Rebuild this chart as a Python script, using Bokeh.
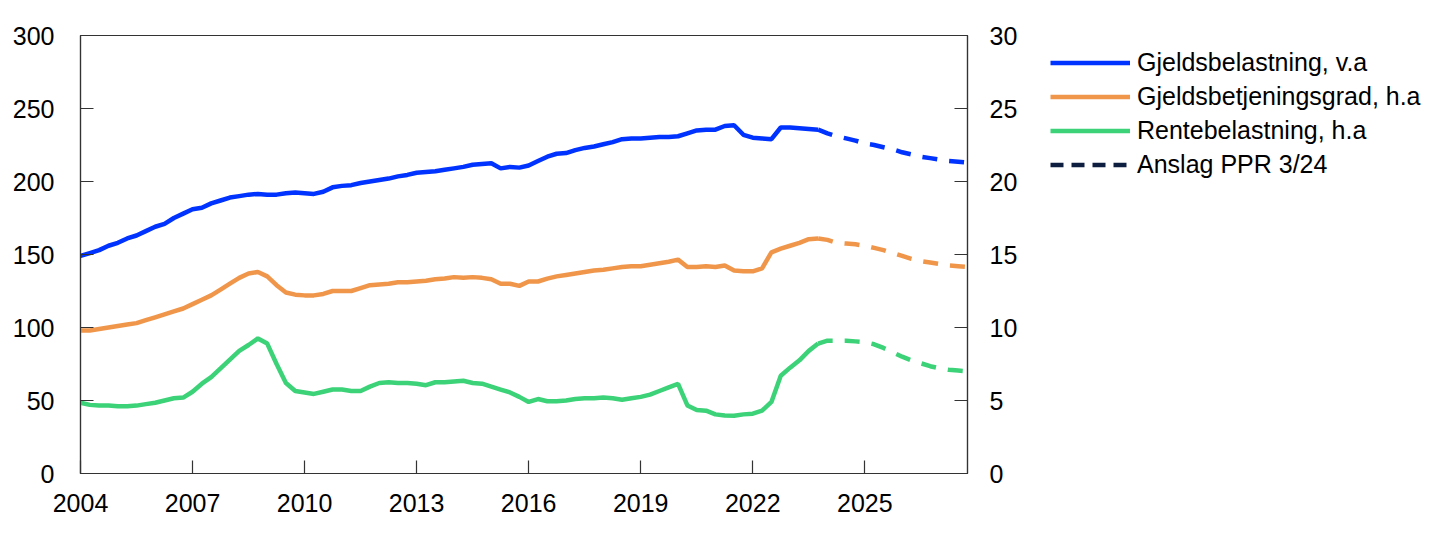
from bokeh.plotting import figure
from bokeh.models import Range1d, LinearAxis, FixedTicker, Legend, LegendItem
from bokeh.layouts import row
from bokeh.embed import file_html
from bokeh.resources import INLINE

# ---- data (quarterly, 2004Q1 - 2023Q4 actual; 2024Q1 - 2027Q4 forecast) ----
start_year = 2004
gjeldsbelastning = [
    149, 151, 153, 156,
    158, 161, 163, 166,
    169, 171, 175, 178,
    181, 182, 185, 187,
    189, 190, 191, 191.5,
    191, 191, 192, 192.5,
    192, 191.5, 193, 196,
    197, 197.5, 199, 200,
    201, 202, 203.5, 204.5,
    206, 206.5, 207, 208,
    209, 210, 211.5, 212,
    212.5, 209, 210, 209.5,
    211, 214, 217, 219,
    219.5, 221.5, 223, 224,
    225.5, 227, 229, 229.5,
    229.5, 230, 230.5, 230.5,
    231, 233, 235, 235.5,
    235.5, 238, 238.5, 232,
    230, 229.5, 229, 237,
    237, 236.5, 236, 235.5,
]
gjeldsbetjeningsgrad = [
    9.8, 9.8, 9.9, 10.0,
    10.1, 10.2, 10.3, 10.5,
    10.7, 10.9, 11.1, 11.3,
    11.6, 11.9, 12.2, 12.6,
    13.0, 13.4, 13.7, 13.8,
    13.5, 12.9, 12.4, 12.25,
    12.2, 12.2, 12.3, 12.5,
    12.5, 12.5, 12.7, 12.9,
    12.95, 13.0, 13.1, 13.1,
    13.15, 13.2, 13.3, 13.35,
    13.45, 13.4, 13.45, 13.4,
    13.3, 13.0, 13.0, 12.85,
    13.15, 13.15, 13.35, 13.5,
    13.6, 13.7, 13.8, 13.9,
    13.95, 14.05, 14.15, 14.2,
    14.2, 14.3, 14.4, 14.5,
    14.65, 14.15, 14.15, 14.2,
    14.15, 14.25, 13.9, 13.85,
    13.85, 14.05, 15.15, 15.4,
    15.6, 15.8, 16.05, 16.1,
]
rentebelastning = [
    4.85, 4.7, 4.65, 4.65,
    4.6, 4.6, 4.65, 4.75,
    4.85, 5.0, 5.15, 5.2,
    5.6, 6.15, 6.6, 7.2,
    7.8, 8.4, 8.8, 9.25,
    8.9, 7.5, 6.2, 5.65,
    5.55, 5.45, 5.6, 5.75,
    5.75, 5.65, 5.65, 5.95,
    6.2, 6.25, 6.2, 6.2,
    6.15, 6.05, 6.25, 6.25,
    6.3, 6.35, 6.2, 6.15,
    5.95, 5.75, 5.55, 5.25,
    4.9, 5.1, 4.95, 4.95,
    5.0, 5.1, 5.15, 5.15,
    5.2, 5.15, 5.05, 5.15,
    5.25, 5.4, 5.65, 5.9,
    6.14, 4.66, 4.35, 4.3,
    4.05, 3.97, 3.95, 4.05,
    4.1, 4.3, 4.9, 6.7,
    7.25, 7.75, 8.4, 8.9,
]
anslag_gjeldsbelastning = [233, 231, 229.5, 228, 226, 225, 223.5, 222, 220, 218.5, 217, 216, 215, 214, 213.5, 213]
anslag_gjeldsbetjeningsgrad = [16.0, 15.8, 15.75, 15.7, 15.6, 15.45, 15.3, 15.1, 14.9, 14.7, 14.55, 14.45, 14.35, 14.25, 14.2, 14.15]
anslag_rentebelastning = [9.1, 9.1, 9.1, 9.05, 9.0, 8.85, 8.6, 8.3, 8.0, 7.75, 7.55, 7.35, 7.2, 7.1, 7.05, 7.0]

x_ticks = [2004, 2007, 2010, 2013, 2016, 2019, 2022, 2025]
left_ticks = [0, 50, 100, 150, 200, 250, 300]
right_ticks = [0, 5, 10, 15, 20, 25, 30]

labels = ["Gjeldsbelastning, v.a", "Gjeldsbetjeningsgrad, h.a", "Rentebelastning, h.a", "Anslag PPR 3/24"]

BLUE = "#0033FF"
ORANGE = "#F0964B"
GREEN = "#3CD278"
NAVY = "#0E1E40"
FONT = "Liberation Sans"
FS = "25px"

n = len(gjeldsbelastning)
t_act = [start_year + i / 4 for i in range(n)]
t_fc = [t_act[-1]] + [t_act[-1] + (i + 1) / 4 for i in range(len(anslag_gjeldsbelastning))]

# ---------------- main chart ----------------
W, H = 1030, 535
FRAME_L, FRAME_T, FRAME_R, FRAME_B = 80, 35, 967, 473
p = figure(width=W, height=H, output_backend="svg", toolbar_location=None,
           x_range=Range1d(2004, t_fc[-1]), y_range=Range1d(0, 300))
p.min_border_left = FRAME_L
p.min_border_top = FRAME_T
p.min_border_bottom = H - FRAME_B
p.min_border_right = W - FRAME_R
p.extra_y_ranges = {"right": Range1d(0, 30)}

p.xgrid.visible = False
p.ygrid.visible = False
p.outline_line_color = "#333333"
p.outline_line_width = 1.2

lw = 4.5
dash = "15 12"
p.line(t_act, gjeldsbelastning, line_color=BLUE, line_width=lw)
p.line(t_fc, [gjeldsbelastning[-1]] + anslag_gjeldsbelastning, line_color=BLUE, line_width=lw, line_dash=dash)
p.line(t_act, gjeldsbetjeningsgrad, line_color=ORANGE, line_width=lw, y_range_name="right")
p.line(t_fc, [gjeldsbetjeningsgrad[-1]] + anslag_gjeldsbetjeningsgrad, line_color=ORANGE, line_width=lw,
       line_dash=dash, y_range_name="right")
p.line(t_act, rentebelastning, line_color=GREEN, line_width=lw, y_range_name="right")
p.line(t_fc, [rentebelastning[-1]] + anslag_rentebelastning, line_color=GREEN, line_width=lw,
       line_dash=dash, y_range_name="right")


def style_axis(ax):
    ax.axis_line_color = "#333333"
    ax.axis_line_width = 1.2
    ax.major_tick_line_color = "#333333"
    ax.major_tick_line_width = 1.2
    ax.major_tick_in = 13
    ax.major_tick_out = 0
    ax.minor_tick_line_color = None
    ax.major_label_text_font = FONT
    ax.major_label_text_font_size = FS
    ax.major_label_text_color = "#000000"
    ax.major_label_standoff = 20


p.xaxis.ticker = FixedTicker(ticks=x_ticks)
p.yaxis.ticker = FixedTicker(ticks=left_ticks)
style_axis(p.xaxis[0])
style_axis(p.yaxis[0])
p.xaxis.major_label_standoff = 20
p.yaxis.major_label_standoff = 26

ax_r = LinearAxis(y_range_name="right", ticker=FixedTicker(ticks=right_ticks))
style_axis(ax_r)
ax_r.major_label_standoff = 22
p.add_layout(ax_r, "right")

# ---------------- legend panel ----------------
LW2 = 410
q = figure(width=LW2, height=H, output_backend="svg", toolbar_location=None,
           x_range=Range1d(0, 1), y_range=Range1d(0, 1),
           x_axis_location=None, y_axis_location=None)
q.xgrid.visible = False
q.ygrid.visible = False
q.outline_line_color = None
q.min_border_left = 7
q.min_border_top = FRAME_T
q.min_border_right = 0
q.min_border_bottom = H - FRAME_B

off = dict(x=[-5, -4], y=[-5, -5])
l1 = q.line(line_color=BLUE, line_width=lw, **off)
l2 = q.line(line_color=ORANGE, line_width=lw, **off)
l3 = q.line(line_color=GREEN, line_width=lw, **off)
l4 = q.line(line_color=NAVY, line_width=lw, line_dash="13 8", **off)

legend = Legend(items=[LegendItem(label=labels[0], renderers=[l1]),
                       LegendItem(label=labels[1], renderers=[l2]),
                       LegendItem(label=labels[2], renderers=[l3]),
                       LegendItem(label=labels[3], renderers=[l4])],
                location="top_left")
legend.label_text_font = FONT
legend.label_text_font_size = FS
legend.label_text_color = "#000000"
legend.glyph_width = 80
legend.glyph_height = 25
legend.label_height = 25
legend.label_standoff = 7
legend.spacing = 5
legend.padding = 0
legend.margin = 13
legend.border_line_alpha = 0
legend.background_fill_alpha = 0
q.add_layout(legend, "center")

open("out.html", "w").write(file_html(row(p, q), INLINE))
